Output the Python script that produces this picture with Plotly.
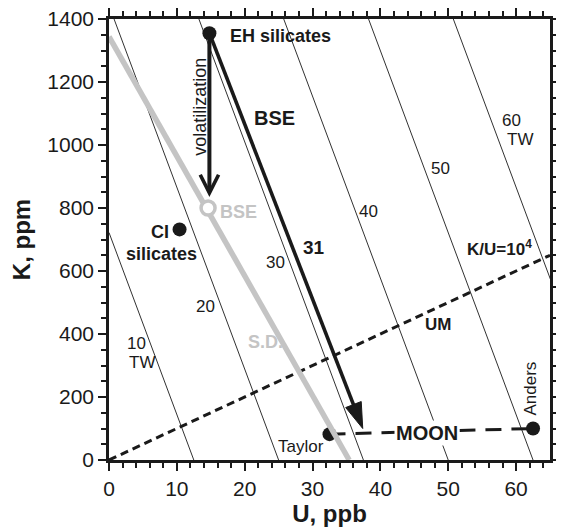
import plotly.graph_objects as go

# Iso-heat-production lines (TW): U (ppb) where K=0 and K (ppm) where U=0
tw_levels = [10, 20, 30, 40, 50, 60]
tw_u_at_k0 = [12.5, 25.0, 37.5, 50.0, 62.5, 75.0]
tw_k_at_u0 = [722, 1443, 2165, 2887, 3609, 4330]

# K/U = 10^4 reference line
ku_u = [0, 65]
ku_k = [0, 650]

# S.D. (gray) line
sd_u = [0, 35.4]
sd_k = [1344, 0]

# Sample points
pt_names = ["EH silicates", "CI silicates", "Taylor", "Anders"]
pt_u = [14.8, 10.4, 32.5, 62.5]
pt_k = [1355, 732, 82, 100]

# BSE (open circle)
bse_u = [14.6]
bse_k = [800]

# BSE arrow: EH silicates -> Moon
arrow_u = [14.8, 37.4]
arrow_k = [1355, 100]

# Volatilization arrow (start, tip)
vol_u = [14.8, 14.8]
vol_k = [1340, 835]

# Moon range (Taylor -> Anders)
moon_u = [32.5, 62.5]
moon_k = [82, 100]

FONT = "Liberation Sans, Arial, Helvetica, sans-serif"
INK = "#1a1a1a"
GRAY = "#c4c4c4"

fig = go.Figure()

for lvl, u0, k0 in zip(tw_levels, tw_u_at_k0, tw_k_at_u0):
    fig.add_trace(go.Scatter(x=[u0, 0], y=[0, k0], mode="lines",
                             line=dict(color=INK, width=0.9), hoverinfo="skip"))

fig.add_trace(go.Scatter(x=ku_u, y=ku_k, mode="lines",
                         line=dict(color=INK, width=3, dash="8px,5px")))

fig.add_trace(go.Scatter(x=moon_u, y=moon_k, mode="lines",
                         line=dict(color=INK, width=3, dash="16px,10px")))

fig.add_trace(go.Scatter(x=pt_u, y=pt_k, mode="markers",
                         marker=dict(color=INK, size=14, line=dict(width=0))))

fig.add_trace(go.Scatter(x=sd_u, y=sd_k, mode="lines",
                         line=dict(color=GRAY, width=5.5)))

fig.add_trace(go.Scatter(x=bse_u, y=bse_k, mode="markers",
                         marker=dict(color="white", size=14, line=dict(color=GRAY, width=3.5))))

fig.add_trace(go.Scatter(x=arrow_u, y=arrow_k, mode="lines+markers",
                         line=dict(color=INK, width=3.6),
                         marker=dict(symbol=["circle", "arrow"], size=[0, 27], opacity=1,
                                     angleref="previous", color=[INK, INK],
                                     line=dict(width=1, color=INK))))

ann = []
ann.append(dict(x=vol_u[1], y=vol_k[1], ax=vol_u[0], ay=vol_k[0], axref="x", ayref="y",
                xref="x", yref="y", text="", showarrow=True, arrowhead=5,
                arrowwidth=4, arrowsize=0.9, arrowcolor=INK))

def txt(x, y, s, size, bold=False, color=INK, angle=0, xanchor="center", bg=None):
    d = dict(x=x, y=y, xref="x", yref="y", text=(f"<b>{s}</b>" if bold else s),
             showarrow=False, textangle=angle, xanchor=xanchor, yanchor="middle",
             font=dict(family=FONT, size=size, color=color))
    if bg:
        d["bgcolor"] = bg
    ann.append(d)

txt(17.5, 1346, "EH silicates", 18, bold=True, xanchor="left")
txt(13.3, 1122, "volatilization", 18, angle=-90)
txt(24.4, 1085, "BSE", 20, bold=True)
txt(19.1, 786, "BSE", 18, bold=True, color=GRAY)
txt(7.5, 725, "CI", 18, bold=True)
txt(7.7, 654, "silicates", 18, bold=True)
txt(23.1, 374, "S.D.", 18, bold=True, color=GRAY)
txt(30.2, 676, "31", 19, bold=True)
txt(24.6, 626, "30", 17)
txt(14.2, 487, "20", 17)
txt(4.1, 371, "10", 17)
txt(4.8, 308, "TW", 17)
txt(38.3, 790, "40", 17)
txt(48.8, 926, "50", 17)
txt(59.3, 1079, "60", 17)
txt(60.6, 1018, "TW", 17)
txt(57.6, 673, "K/U=10<sup>4</sup>", 17, bold=True)
txt(48.5, 431, "UM", 17, bold=True)
txt(46.9, 87, "MOON", 20, bold=True, bg="white")
txt(28.3, 42, "Taylor", 17)
txt(62.1, 228, "Anders", 17, angle=-90)

axis_common = dict(showline=True, linewidth=2.5, linecolor=INK, mirror="ticks",
                   ticks="outside", ticklen=8, tickwidth=2, tickcolor=INK,
                   showgrid=False, zeroline=False, automargin=False,
                   ticklabeloverflow="allow",
                   tickfont=dict(family=FONT, size=21, color=INK))

# page body has an 8px default margin; figure sized to fill the 564x531 window
fig.update_layout(
    width=556, height=523,
    margin=dict(l=101, r=14, t=11, b=71),
    paper_bgcolor="white", plot_bgcolor="white",
    showlegend=False,
    annotations=ann,
    xaxis=dict(range=[0, 65], dtick=10, tick0=0,
               minor=dict(dtick=2, ticklen=5, tickwidth=1.6, tickcolor=INK, ticks="outside"),
               title=dict(text="<b>U, ppb</b>", font=dict(family=FONT, size=24, color=INK), standoff=6),
               **axis_common),
    yaxis=dict(range=[0, 1400], dtick=200, tick0=0,
               minor=dict(dtick=50, ticklen=5, tickwidth=1.6, tickcolor=INK, ticks="outside"),
               title=dict(text="<b>K, ppm</b>", font=dict(family=FONT, size=24, color=INK), standoff=10),
               **axis_common),
)

fig.write_html("out.html")
